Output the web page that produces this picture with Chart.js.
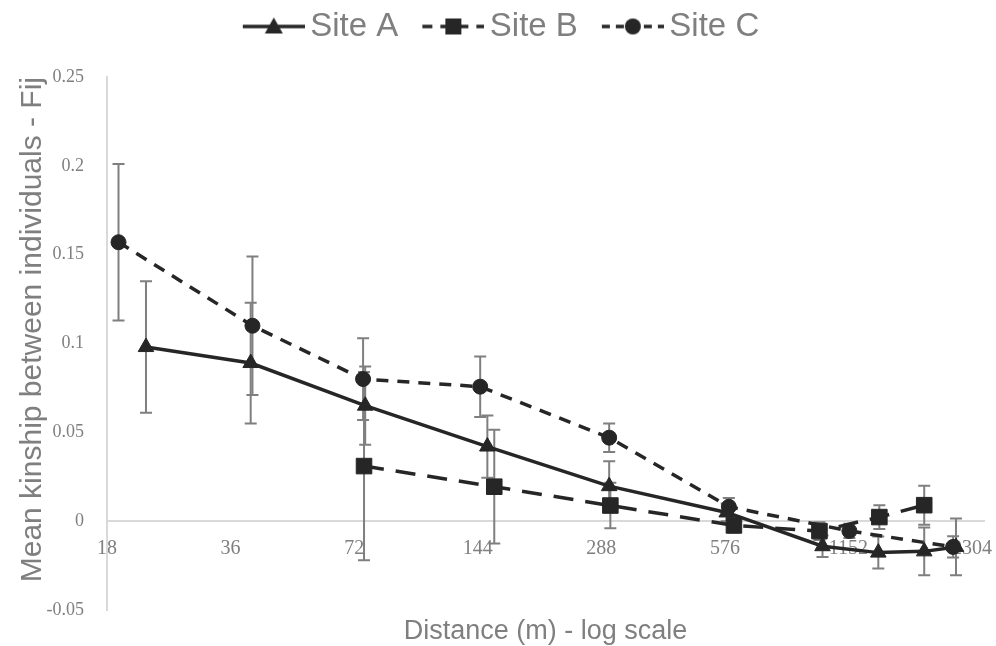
<!DOCTYPE html>
<html>
<head>
<meta charset="utf-8">
<script src="https://cdn.jsdelivr.net/npm/chart.js@4.4.1/dist/chart.umd.min.js"></script>
<style>
  html, body { margin: 0; padding: 0; background: #fff; }
  #wrap { width: 996px; height: 646px; }
</style>
</head>
<body>
<div id="wrap"><canvas id="kinChart"></canvas></div>
<script>
// distance classes (m)
const distA = [22.4, 40.3, 76.6, 152, 301, 582, 996, 1362, 1762, 2106];
const distB = [76.1, 158, 303, 606, 979, 1370, 1762];
const distC = [19.2, 40.7, 75.7, 146, 301, 589, 1158, 2072];

// mean kinship Fij
const fijA = [0.098, 0.089, 0.065, 0.042, 0.0197, 0.0049, -0.0141, -0.0177, -0.017, -0.0145];
const fijB = [0.031, 0.0194, 0.0088, -0.0024, -0.0056, 0.0023, 0.009];
const fijC = [0.157, 0.110, 0.080, 0.0757, 0.047, 0.0081, -0.0055, -0.0145];

// error bar half-lengths
const errA = [0.037, 0.034, 0.022, 0.0175, 0.014, 0.005, 0.006, 0.009, 0.0135, 0.016];
const errB = [0.053, 0.032, 0.0128, 0.004, 0.005, 0.0067, 0.011];
const errC = [0.044, 0.039, 0.023, 0.017, 0.008, 0.005, 0.004, 0.006];

const xTicks = [18, 36, 72, 144, 288, 576, 1152, 2304];
const yTicks = [-0.05, 0, 0.05, 0.1, 0.15, 0.2, 0.25];

const siteNames = ['Site A', 'Site B', 'Site C'];

const ink = '#262626';
const grey = '#7f7f7f';
const axisGrey = '#d9d9d9';
const sans = 'Liberation Sans, Arial, sans-serif';
const serif = 'Liberation Serif, Times New Roman, serif';

function toPoints(xs, ys) {
    return xs.map((x, i) => ({ x: x, y: ys[i] }));
}

// legend swatch: a bit of line with the marker in the middle,
// with some empty room on the left so items sit apart
function swatch(style, dash) {
    const c = document.createElement('canvas');
    c.width = 87; c.height = 24;
    const g = c.getContext('2d');
    const x0 = 25, mid = 56;
    g.strokeStyle = ink;
    g.fillStyle = ink;
    g.lineWidth = 3.5;
    g.setLineDash(dash);
    g.beginPath();
    g.moveTo(x0, 12); g.lineTo(87, 12);
    g.stroke();
    g.setLineDash([]);
    g.beginPath();
    if (style === 'triangle') {
        g.moveTo(mid, 3); g.lineTo(mid + 9, 19); g.lineTo(mid - 9, 19); g.closePath();
    } else if (style === 'rect') {
        g.rect(mid - 8, 4, 16, 16);
    } else {
        g.arc(mid, 12, 8, 0, Math.PI * 2);
    }
    g.fill();
    return c;
}

const errSets = [errA, errB, errC];

const errorBars = {
    id: 'errorBars',
    beforeDatasetsDraw(chart) {
        const { ctx, scales: { x, y } } = chart;
        ctx.save();
        ctx.strokeStyle = grey;
        ctx.lineWidth = 2;
        chart.data.datasets.forEach((ds, i) => {
            errSets[i].forEach((e, j) => {
                const p = ds.data[j];
                const px = x.getPixelForValue(p.x);
                const top = y.getPixelForValue(p.y + e);
                const bot = y.getPixelForValue(p.y - e);
                ctx.beginPath();
                ctx.moveTo(px, top); ctx.lineTo(px, bot);
                ctx.moveTo(px - 6, top); ctx.lineTo(px + 6, top);
                ctx.moveTo(px - 6, bot); ctx.lineTo(px + 6, bot);
                ctx.stroke();
            });
        });
        ctx.restore();
    }
};

const dashB = [20, 12];
const dashC = [12, 9];

// empty axis, only used for its title / for spacing
function blankAxis(pos, extra) {
    return Object.assign({
        type: 'linear',
        axis: 'x',
        position: pos,
        min: 0,
        max: 1,
        grid: { display: false },
        border: { display: false },
        ticks: { display: false }
    }, extra);
}

new Chart(document.getElementById('kinChart'), {
    type: 'line',
    data: {
        datasets: [
            {
                label: siteNames[0],
                data: toPoints(distA, fijA),
                borderColor: ink,
                backgroundColor: ink,
                borderWidth: 3.5,
                pointStyle: 'triangle',
                pointRadius: 9,
                pointBorderWidth: 1,
                legendSwatch: swatch('triangle', [])
            },
            {
                label: siteNames[1],
                data: toPoints(distB, fijB),
                borderColor: ink,
                backgroundColor: ink,
                borderWidth: 3.5,
                borderDash: dashB,
                pointStyle: 'rect',
                pointRadius: 11,
                pointBorderWidth: 1,
                legendSwatch: swatch('rect', [10, 8])
            },
            {
                label: siteNames[2],
                data: toPoints(distC, fijC),
                borderColor: ink,
                backgroundColor: ink,
                borderWidth: 3.5,
                borderDash: dashC,
                pointStyle: 'circle',
                pointRadius: 7.5,
                pointBorderWidth: 1,
                legendSwatch: swatch('circle', [8, 6])
            }
        ]
    },
    options: {
        responsive: true,
        maintainAspectRatio: false,
        animation: false,
        layout: { padding: { top: 0, right: 8, bottom: 0, left: 0 } },
        plugins: {
            legend: {
                position: 'top',
                labels: {
                    usePointStyle: true,
                    pointStyleWidth: 65,
                    padding: 10,
                    color: grey,
                    font: { family: sans, size: 33 },
                    generateLabels: function(chart) {
                        return chart.data.datasets.map((ds, i) => ({
                            text: ds.label,
                            pointStyle: ds.legendSwatch,
                            fontColor: grey,
                            lineWidth: 0,
                            datasetIndex: i
                        }));
                    }
                }
            },
            tooltip: { enabled: false }
        },
        scales: {
            x: {
                type: 'logarithmic',
                position: { y: 0 },
                min: 18,
                max: 2464,
                afterBuildTicks: function(scale) {
                    scale.ticks = xTicks.map(v => ({ value: v }));
                },
                afterFit: function(scale) {
                    scale.paddingLeft = 0;
                    scale.paddingRight = 0;
                },
                grid: { display: false },
                border: { display: true, color: axisGrey, width: 2 },
                ticks: {
                    autoSkip: false,
                    maxRotation: 0,
                    padding: 8,
                    color: grey,
                    font: { family: serif, size: 20 },
                    callback: function(value) { return String(value); }
                }
            },
            topGap: blankAxis('top', {
                afterFit: function(scale) { scale.height = 24; }
            }),
            xTitle: blankAxis('bottom', {
                afterFit: function(scale) { scale.height = 36; },
                title: {
                    display: true,
                    text: 'Distance (m) - log scale',
                    color: grey,
                    padding: { top: 0, bottom: -2 },
                    font: { family: sans, size: 27 }
                }
            }),
            y: {
                min: -0.05,
                max: 0.25,
                afterBuildTicks: function(scale) {
                    scale.ticks = yTicks.map(v => ({ value: v }));
                },
                afterFit: function(scale) { scale.width = 107; },
                grid: { display: false },
                border: { display: true, color: axisGrey, width: 2 },
                ticks: {
                    padding: 15,
                    color: grey,
                    font: { family: serif, size: 18 },
                    callback: function(value) { return String(Math.round(value * 100) / 100); }
                },
                title: {
                    display: true,
                    align: 'end',
                    text: 'Mean kinship between individuals - Fij',
                    color: grey,
                    padding: { top: 15, bottom: 0 },
                    font: { family: sans, size: 30 }
                }
            }
        }
    },
    plugins: [errorBars]
});
</script>
</body>
</html>
